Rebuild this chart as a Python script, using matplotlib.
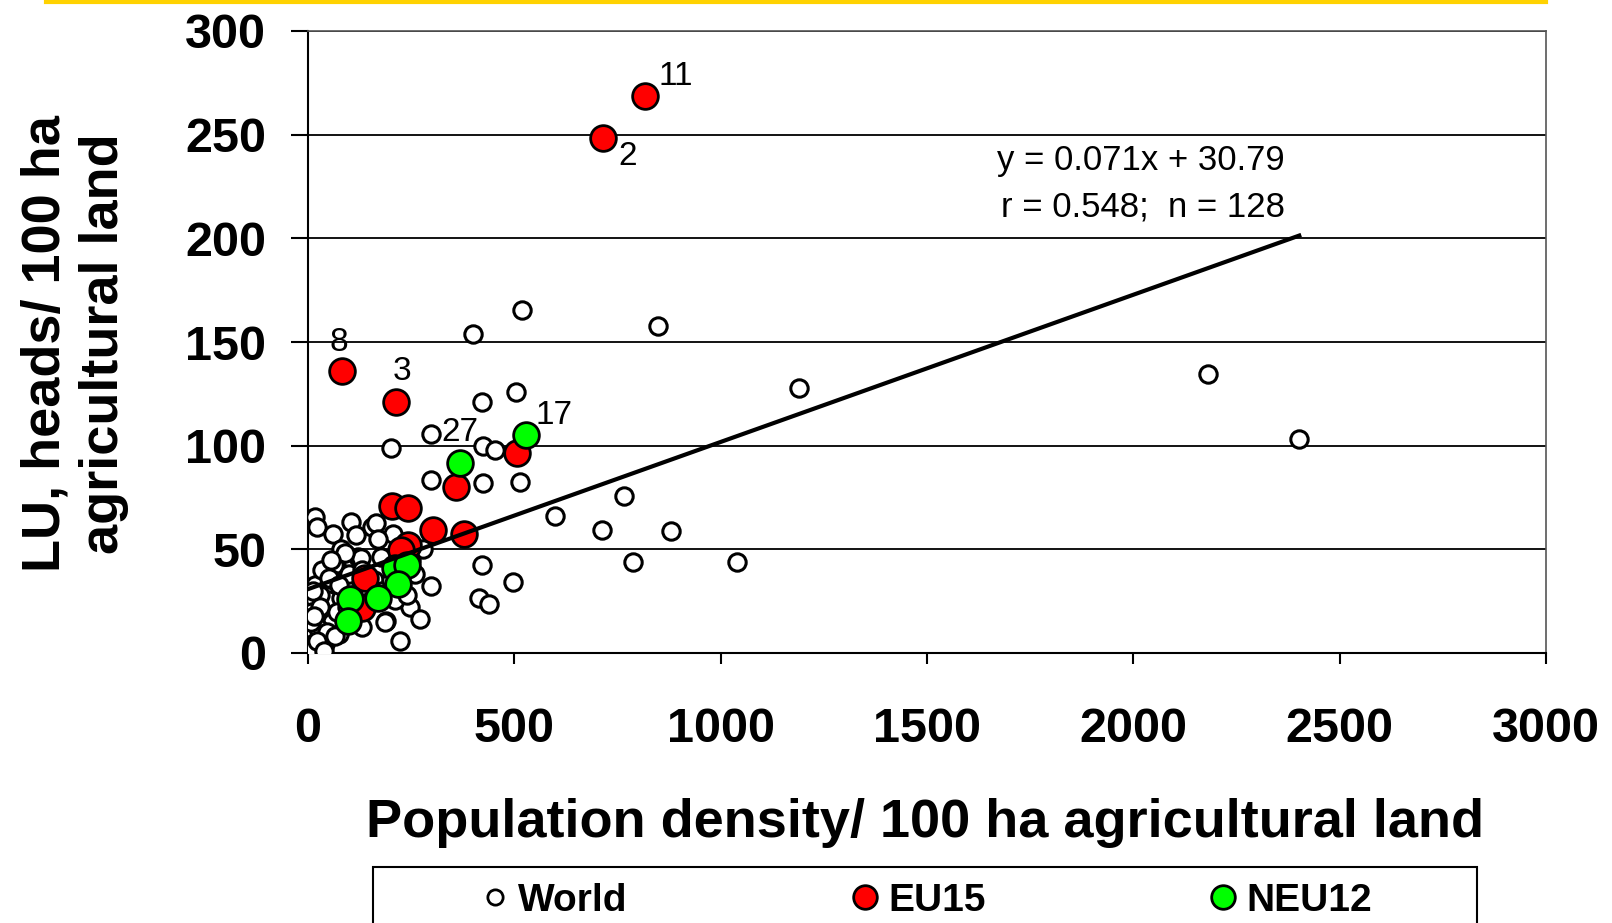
import matplotlib
matplotlib.use('Agg')
import matplotlib.pyplot as plt
from matplotlib.lines import Line2D
from matplotlib.patches import Rectangle

plt.rcParams['font.family'] = ['Liberation Sans', 'DejaVu Sans']

# countries of the world: population density vs livestock units (per 100 ha agri land)
world_x = [518, 401, 847, 1191, 2180, 2402,
           421, 503, 299, 202, 424, 453,
           299, 424, 513, 598, 765, 713, 880,
           787, 1039, 421, 496, 414, 439, 299,
           247, 272, 222, 189, 132,
           18, 22, 105, 60, 117, 156, 165, 207,
           81, 64, 109, 121, 178, 129, 279,
           16, 16, 48, 48, 89, 81, 40, 16, 57, 76,
           0, 4, 28, 40, 186, 210,
           30, 60, 100, 140, 160, 120, 10, 25, 70, 95,
           150, 180, 200, 230, 250, 35, 15, 20, 8, 45,
           130, 170, 90, 55, 240, 260, 12, 30, 65, 110,
           5, 22, 38, 14, 50, 75]
world_y = [165.6, 153.7, 157.7, 127.9, 134.4, 103.1,
           121, 126, 105.6, 98.7, 100, 98,
           83.3, 81.8, 82.3, 66, 75.9, 59.5, 59,
           44.1, 44.1, 42.6, 34.2, 26.3, 23.8, 32.2,
           22.3, 16.4, 6, 15.4, 12.4,
           65.7, 60.8, 63.2, 57.3, 56.8, 60.8, 62.5, 57.3,
           50.4, 42.3, 43.9, 46.4, 46.4, 45.6, 50.4,
           32.7, 25.4, 31.9, 25.4, 31.9, 26.3, 19, 13.4, 15, 9.4,
           7.8, 3, 3, 4.5, 15, 25.4,
           28, 35, 38, 30, 35, 20, 20, 12, 20, 22,
           25, 30, 35, 40, 45, 40, 5, 0, 15, 10,
           40, 55, 48, 45, 28, 38, 30, 22, 8, 28,
           2, 6, 1, 18, 36, 33]

# EU15 member states
eu15_x = [817, 715, 82, 214, 506, 359, 203, 242, 304, 379, 242, 226, 137, 132]
eu15_y = [268.8, 248.4, 135.9, 121, 96.7, 80.3, 70.8, 69.9, 59.2, 57.5, 52, 49.6, 36.2, 21.6]
eu15_lab = ['11', '2', '8', '3', '', '', '', '', '', '', '', '', '', '']

# new member states (NEU12)
neu12_x = [528, 369, 210, 241, 219, 101, 169, 96]
neu12_y = [105, 91.7, 40.9, 42.3, 33.2, 25.9, 26.4, 15.3]
neu12_lab = ['17', '27', '', '', '', '', '', '']

# linear trend from the regression
slope = 0.071
icpt = 30.79
trend_x = [0, 2402]
trend_y = [slope * v + icpt for v in trend_x]

fig = plt.figure(figsize=(16.12, 9.23), dpi=100)
ax = fig.add_axes([308 / 1612, 1 - 653 / 923, 1238 / 1612, 622 / 923])

ax.scatter(world_x, world_y, s=12.5 ** 2, facecolor='white', edgecolor='black', linewidth=2.2, zorder=3)
ax.scatter(eu15_x, eu15_y, s=18.5 ** 2, facecolor='#ff0000', edgecolor='black', linewidth=2, zorder=4)
ax.scatter(neu12_x, neu12_y, s=18.5 ** 2, facecolor='#00ff00', edgecolor='black', linewidth=2, zorder=5)
ax.plot(trend_x, trend_y, color='black', lw=3, zorder=6)

# numbers next to selected countries
offs = {'11': (22, 14), '2': (18, -13), '8': (-2, 21), '3': (4, 22), '17': (20, 14), '27': (0, 22)}
for xs, ys, labs in [(eu15_x, eu15_y, eu15_lab), (neu12_x, neu12_y, neu12_lab)]:
    for xv, yv, t in zip(xs, ys, labs):
        if t:
            dx, dy = offs[t]
            ax.annotate(t, (xv, yv), xytext=(dx, dy), textcoords='offset points',
                        ha='center', va='center', fontsize=24, zorder=7)

ax.text(2367, 237.5, 'y = 0.071x + 30.79', ha='right', va='center', fontsize=25)
ax.text(2367, 215, 'r = 0.548;  n = 128', ha='right', va='center', fontsize=25)

ax.set_xlim(0, 3000)
ax.set_ylim(0, 300)
ax.set_xticks(range(0, 3001, 500))
ax.set_yticks(range(0, 301, 50))
ax.yaxis.grid(True, color='black', lw=1.3)
ax.set_axisbelow(True)
for s in ['top', 'right']:
    ax.spines[s].set_color('#555555')
    ax.spines[s].set_linewidth(1.2)
for s in ['left', 'bottom']:
    ax.spines[s].set_linewidth(1.5)
ax.tick_params(axis='y', direction='out', length=12, width=1.5, pad=18, labelsize=35)
ax.tick_params(axis='x', direction='out', length=8, width=1.5, pad=31, labelsize=35)
for lab in ax.get_xticklabels() + ax.get_yticklabels():
    lab.set_fontweight('bold')

ax.set_xlabel('Population density/ 100 ha agricultural land', fontsize=39, fontweight='bold')
ax.xaxis.set_label_coords(0.498, -0.273)
ax.xaxis.label.set_va('center')
ax.set_ylabel('LU, heads/ 100 ha\nagricultural land', fontsize=39, fontweight='bold', linespacing=1.22)
ax.yaxis.set_label_coords(-0.1886, 0.497)
ax.yaxis.label.set_va('center')

# legend strip at the bottom
fig.patches.append(Rectangle((373 / 1612, -0.02), 1104 / 1612, 0.02 + 56 / 923,
                             transform=fig.transFigure, facecolor='white',
                             edgecolor='black', lw=1.5))
handles = [
    Line2D([], [], ls='none', marker='o', ms=11, mfc='white', mec='black', mew=2, label='World'),
    Line2D([], [], ls='none', marker='o', ms=17, mfc='#ff0000', mec='black', mew=2, label='EU15'),
    Line2D([], [], ls='none', marker='o', ms=17, mfc='#00ff00', mec='black', mew=2, label='NEU12'),
]
leg = fig.legend(handles=handles, ncol=3, loc='center', bbox_to_anchor=(0.574, 1 - 901 / 923),
                 frameon=False, prop={'size': 28, 'weight': 'bold'}, columnspacing=5.7,
                 handlelength=0.8, handletextpad=0.2)

# thin yellow bar across the top
fig.add_artist(Line2D([46 / 1612, 1546 / 1612], [1 - 2 / 923, 1 - 2 / 923],
                      transform=fig.transFigure, color='#ffd200', lw=3))

fig.savefig('out.png', dpi=100)
